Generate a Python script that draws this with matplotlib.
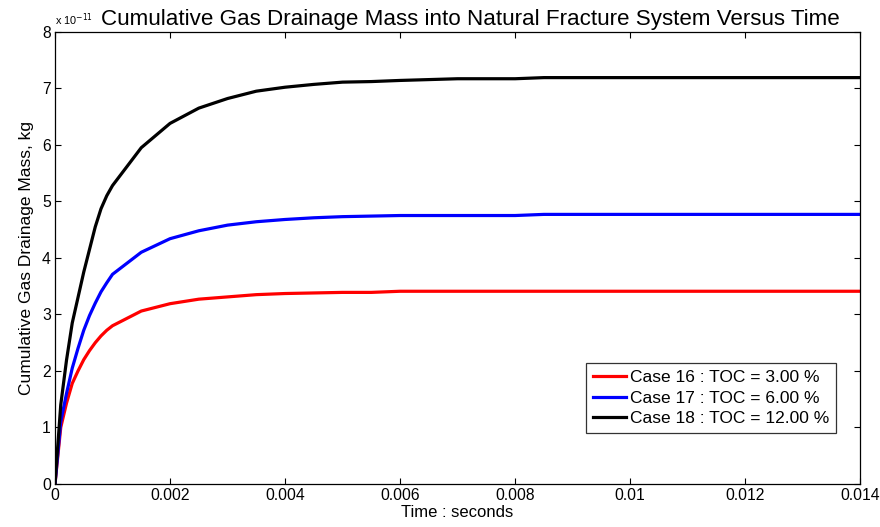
import matplotlib
matplotlib.use("Agg")
import matplotlib.pyplot as plt
import numpy as np

plt.rcParams['font.family'] = ['Liberation Sans', 'DejaVu Sans']

# Time samples, seconds
time_s = [0, 0.0001, 0.0002, 0.0003, 0.0004, 0.0005, 0.0006, 0.0007, 0.0008, 0.0009,
          0.001, 0.0015, 0.002, 0.0025, 0.003, 0.0035, 0.004, 0.0045, 0.005, 0.0055,
          0.006, 0.007, 0.008, 0.0085, 0.009, 0.010, 0.011, 0.012, 0.013, 0.014]

# Cumulative drainage mass, units of 1e-11 kg
case16 = [0, 1.00, 1.43, 1.78, 2.00, 2.20, 2.36, 2.50, 2.62, 2.72,
          2.80, 3.06, 3.19, 3.27, 3.31, 3.35, 3.37, 3.38, 3.39, 3.39,
          3.41, 3.41, 3.41, 3.41, 3.41, 3.41, 3.41, 3.41, 3.41, 3.41]
case17 = [0, 1.10, 1.60, 2.05, 2.40, 2.72, 2.98, 3.20, 3.40, 3.56,
          3.71, 4.10, 4.34, 4.48, 4.58, 4.64, 4.68, 4.71, 4.73, 4.74,
          4.75, 4.75, 4.75, 4.77, 4.77, 4.77, 4.77, 4.77, 4.77, 4.77]
case18 = [0, 1.40, 2.19, 2.85, 3.30, 3.75, 4.15, 4.55, 4.87, 5.10,
          5.28, 5.95, 6.38, 6.65, 6.82, 6.95, 7.02, 7.07, 7.11, 7.12,
          7.14, 7.17, 7.17, 7.19, 7.19, 7.19, 7.19, 7.19, 7.19, 7.19]

labels = ["Case 16 : TOC = 3.00 %", "Case 17 : TOC = 6.00 %", "Case 18 : TOC = 12.00 %"]
colors = ["#ff0000", "#0000ff", "#000000"]
x_ticks = [0, 0.002, 0.004, 0.006, 0.008, 0.01, 0.012, 0.014]
x_ticklabels = ["0", "0.002", "0.004", "0.006", "0.008", "0.01", "0.012", "0.014"]
y_ticks = [0, 1, 2, 3, 4, 5, 6, 7, 8]

fig = plt.figure(figsize=(8.8, 5.27), dpi=100)
ax = fig.add_axes([0.0625, 0.0816, 0.915, 0.858])

scale = 1e-11
for series, lab, col in zip([case16, case17, case18], labels, colors):
    ax.plot(time_s, np.array(series) * scale, color=col, lw=2.3, label=lab)

ax.set_xlim(0, 0.014)
ax.set_ylim(0, 8e-11)
ax.set_xticks(x_ticks)
ax.set_xticklabels(x_ticklabels)
ax.set_yticks([v * scale for v in y_ticks])
ax.set_yticklabels([str(v) for v in y_ticks])
ax.tick_params(direction='in', top=True, right=True, length=4, width=0.8,
               labelsize=11.3, pad=3)
for s in ax.spines.values():
    s.set_linewidth(0.9)

ax.text(0.0, 1.008, r"x 10$^{-11}$", transform=ax.transAxes, fontsize=7.8,
        ha='left', va='bottom')
ax.set_title("Cumulative Gas Drainage Mass into Natural Fracture System Versus Time",
             fontsize=16.1, pad=5, x=0.516)
ax.set_xlabel("Time : seconds", fontsize=12, labelpad=1)
ax.set_ylabel("Cumulative Gas Drainage Mass, kg", fontsize=12.5, labelpad=6)

leg = ax.legend(loc='lower right', bbox_to_anchor=(0.97, 0.112), fontsize=12.5,
                frameon=True, fancybox=False, edgecolor='black', handlelength=1.85,
                handletextpad=0.25, borderpad=0.4, labelspacing=0.32, borderaxespad=0)
leg.get_frame().set_linewidth(0.9)

fig.savefig("out.png", dpi=100, facecolor='white')
